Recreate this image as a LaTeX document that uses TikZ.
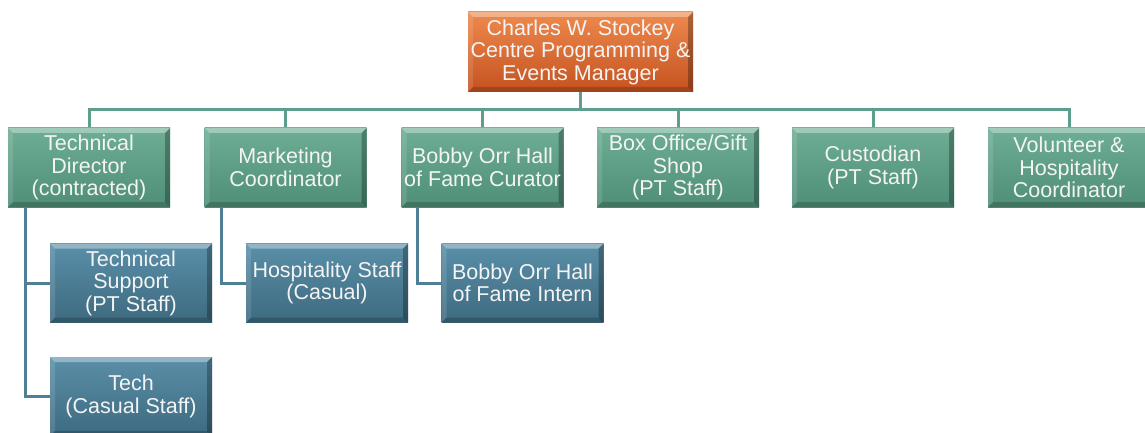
\documentclass[tikz,border=0pt]{standalone}
\usepackage{fontspec}
\setmainfont{Liberation Sans}
\usetikzlibrary{calc}
\definecolor{grnT}{HTML}{6EAE95}
\definecolor{grnB}{HTML}{4F8E77}
\definecolor{bluT}{HTML}{5A8FA8}
\definecolor{bluB}{HTML}{3D6A80}
\definecolor{orgT}{HTML}{EE8A4E}
\definecolor{orgB}{HTML}{C5521F}
\definecolor{gline}{HTML}{5E9E8C}
\definecolor{bline}{HTML}{4F7F96}
\definecolor{txt}{HTML}{F4F4F4}
\pgfdeclarelayer{bg}
\pgfsetlayers{bg,main}
\tikzset{
  bevel/.style={path picture={
    \path (path picture bounding box.north west) coordinate (ppnw)
          (path picture bounding box.south east) coordinate (ppse);
    \fill[white,opacity=.35] (ppnw) -- (ppse|-ppnw) -- ($(ppse|-ppnw)+(-5,5)$) -- ($(ppnw)+(5,5)$) -- cycle;
    \fill[white,opacity=.12] (ppnw) -- ($(ppnw)+(5,5)$) -- ($(ppnw|-ppse)+(5,-5)$) -- (ppnw|-ppse) -- cycle;
    \fill[black,opacity=.28] (ppse|-ppnw) -- (ppse) -- ($(ppse)+(-5,-5)$) -- ($(ppse|-ppnw)+(-5,5)$) -- cycle;
    \fill[black,opacity=.18] (ppnw|-ppse) -- (ppse) -- ($(ppse)+(-5,-5)$) -- ($(ppnw|-ppse)+(5,-5)$) -- cycle;
  }},
  box/.style={rectangle, inner sep=0pt, minimum width=162pt, minimum height=79pt,
    align=center, text=txt, font=\fontsize{21.5}{22.5}\selectfont, bevel},
  gbox/.style={box, top color=grnT, bottom color=grnB},
  bbox/.style={box, top color=bluT, bottom color=bluB},
  obox/.style={box, top color=orgT, bottom color=orgB, minimum width=225pt, minimum height=80pt},
  gconn/.style={draw=gline, line width=3pt},
  bconn/.style={draw=bline, line width=3pt},
}
\begin{document}
\begin{tikzpicture}[x=1pt,y=-1pt]
\useasboundingbox (0,0) rectangle (1145,433);
\clip (0,0) rectangle (1145,433);

\node[obox] (top) at (580.5,52) {Charles W. Stockey\\Centre Programming \&\\Events Manager};

\node[gbox] (td) at (89,167.5) {Technical\\Director\\(contracted)};
\node[gbox] (mc) at (285.5,167.5) {Marketing\\Coordinator};
\node[gbox] (cu) at (482.5,167.5) {Bobby Orr Hall\\of Fame Curator};
\node[gbox] (bo) at (678,167.5) {Box Office/Gift\\Shop\\(PT Staff)};
\node[gbox] (cs) at (873,167.5) {Custodian\\(PT Staff)};
\node[gbox] (vh) at (1069,167.5) {Volunteer \&\\Hospitality\\Coordinator};

\node[bbox] (ts) at (131,283) {Technical\\Support\\(PT Staff)};
\node[bbox] (hs) at (327,283) {Hospitality Staff\\(Casual)};
\node[bbox] (in) at (522.5,283) {Bobby Orr Hall\\of Fame Intern};
\node[bbox] (te) at (131,396.5) {Tech\\(Casual Staff)};

\coordinate (bus) at (580,110);

\begin{pgfonlayer}{bg}
\fill[white] (0,0) rectangle (1145,433);
\draw[gconn] (top.south) -- (top.south |- bus);
\draw[gconn] (td.north) -- (td.north |- bus) -- (vh.north |- bus) -- (vh.north);
\draw[gconn] (mc.north) -- (mc.north |- bus);
\draw[gconn] (cu.north) -- (cu.north |- bus);
\draw[gconn] (bo.north) -- (bo.north |- bus);
\draw[gconn] (cs.north) -- (cs.north |- bus);

\draw[bconn] ($(td.south west)+(18,0)$) |- (ts.west);
\draw[bconn] ($(td.south west)+(18,0)$) |- (te.west);
\draw[bconn] ($(mc.south west)+(17,0)$) |- (hs.west);
\draw[bconn] ($(cu.south west)+(16,0)$) |- (in.west);
\end{pgfonlayer}
\end{tikzpicture}
\end{document}
